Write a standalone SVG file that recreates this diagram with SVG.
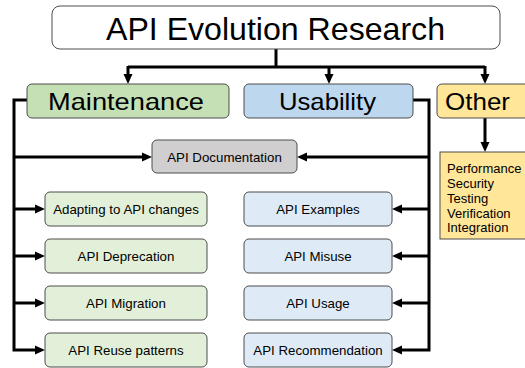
<svg xmlns="http://www.w3.org/2000/svg" width="525" height="368" viewBox="0 0 525 368">
<style>
text{font-family:"Liberation Sans",Arial,sans-serif;fill:#000;text-anchor:middle}
.box{stroke:#4d4d4d;stroke-width:1}
.big{font-size:24px}
.small{font-size:13.3px}
.list{font-size:13px;text-anchor:start}
.con{fill:none;stroke:#000;stroke-width:3;stroke-linejoin:miter}
.arr{marker-end:url(#ah)}
.mnt{fill:#c5e0b4}.mleaf{fill:#e2f0d9}
.usb{fill:#bdd7ee}.uleaf{fill:#deebf7}
.oth{fill:#ffe699}
.doc{fill:#d0cece}
</style>
<defs>
<marker id="ah" markerUnits="userSpaceOnUse" markerWidth="10" markerHeight="10" refX="0" refY="5" orient="auto" viewBox="0 0 10 10">
<path d="M0,0.5 L10,5 L0,9.5 z" fill="#000"/>
</marker>
</defs>
<rect width="525" height="368" fill="#fff"/>
<g id="connectors">
<path class="con" d="M276,49 V67 M128,67 H485"/>
<path class="con arr" d="M128,66 V74"/>
<path class="con arr" d="M329,67 V74"/>
<path class="con arr" d="M485,66 V74"/>
<path class="con arr" d="M27,100 H14 V350 H35"/>
<path class="con arr" d="M14,157 H142"/>
<path class="con arr" d="M14,209 H35"/>
<path class="con arr" d="M14,256 H35"/>
<path class="con arr" d="M14,303 H35"/>
<path class="con arr" d="M413,100 H429 V350 H402"/>
<path class="con arr" d="M429,157 H307"/>
<path class="con arr" d="M429,209 H402"/>
<path class="con arr" d="M429,256 H402"/>
<path class="con arr" d="M429,303 H402"/>
<path class="con arr" d="M485,118 V142"/>
</g>
<g id="root"><rect class="box" x="52" y="6" width="448" height="43" rx="8" fill="#fff"/><text x="275.5" y="39.5" style="font-size:30.5px" textLength="339" lengthAdjust="spacingAndGlyphs">API Evolution Research</text></g>
<g id="maintenance"><rect class="box mnt" x="27" y="84" width="202" height="34" rx="5"/><text class="big" x="126" y="109.5" textLength="156" lengthAdjust="spacingAndGlyphs">Maintenance</text></g>
<g id="usability"><rect class="box usb" x="244" y="84" width="169" height="34" rx="5"/><text class="big" x="327.5" y="109.5" textLength="97" lengthAdjust="spacingAndGlyphs">Usability</text></g>
<g id="other"><rect class="box oth" x="437" y="84" width="100" height="34" rx="5"/><text class="big" x="477.5" y="109.5" textLength="65" lengthAdjust="spacingAndGlyphs">Other</text></g>
<g id="other-list"><rect class="box oth" x="440" y="152" width="95" height="87"/>
<text class="list" x="447" y="173">Performance</text>
<text class="list" x="447" y="187.8">Security</text>
<text class="list" x="447" y="202.6">Testing</text>
<text class="list" x="447" y="217.5">Verification</text>
<text class="list" x="447" y="232.3">Integration</text></g>
<g id="documentation"><rect class="box doc" x="152" y="140" width="145" height="33" rx="5"/><text class="small" x="224.5" y="161.5">API Documentation</text></g>
<g id="adapting"><rect class="box mleaf" x="45" y="192" width="162" height="34" rx="5"/><text class="small" x="126" y="213.8">Adapting to API changes</text></g>
<g id="deprecation"><rect class="box mleaf" x="45" y="239" width="162" height="34" rx="5"/><text class="small" x="126" y="260.8">API Deprecation</text></g>
<g id="migration"><rect class="box mleaf" x="45" y="286" width="162" height="34" rx="5"/><text class="small" x="126" y="307.8">API Migration</text></g>
<g id="reuse"><rect class="box mleaf" x="45" y="333" width="162" height="34" rx="5"/><text class="small" x="126" y="354.8">API Reuse patterns</text></g>
<g id="examples"><rect class="box uleaf" x="244" y="192" width="148" height="34" rx="5"/><text class="small" x="318" y="213.8">API Examples</text></g>
<g id="misuse"><rect class="box uleaf" x="244" y="239" width="148" height="34" rx="5"/><text class="small" x="318" y="260.8">API Misuse</text></g>
<g id="usage"><rect class="box uleaf" x="244" y="286" width="148" height="34" rx="5"/><text class="small" x="318" y="307.8">API Usage</text></g>
<g id="recommendation"><rect class="box uleaf" x="244" y="333" width="148" height="34" rx="5"/><text class="small" x="318" y="354.8">API Recommendation</text></g>
</svg>
